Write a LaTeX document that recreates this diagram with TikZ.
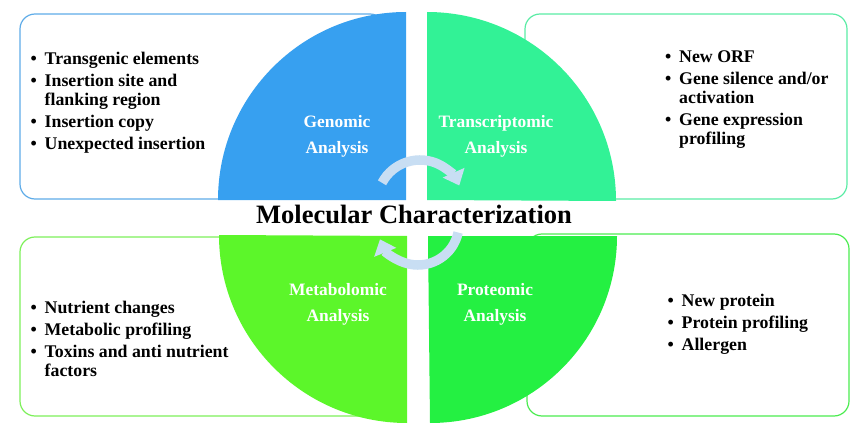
\documentclass[tikz,border=0pt]{standalone}
\usepackage{fontspec}
\setmainfont{Liberation Serif}
\usetikzlibrary{arrows.meta}
\definecolor{gblue}{RGB}{55,160,240}
\definecolor{tteal}{RGB}{50,242,150}
\definecolor{mgreen}{RGB}{92,246,42}
\definecolor{pgreen}{RGB}{36,240,66}
\definecolor{bblue}{RGB}{95,172,232}
\definecolor{bteal}{RGB}{90,236,165}
\definecolor{bmgreen}{RGB}{125,240,90}
\definecolor{bpgreen}{RGB}{75,236,80}
\definecolor{arrowc}{RGB}{200,222,243}
\newcommand{\itm}[1]{\makebox[14pt][l]{\textbullet}#1}
\newcommand{\cnt}[1]{\makebox[14pt][l]{}#1}
\tikzset{
  infobox/.style={line width=1.2pt, fill=white, rounded corners=15pt},
  listtxt/.style={anchor=north west, inner sep=0pt, align=left, font=\fontsize{17.8}{19}\selectfont\bfseries},
  quadtxt/.style={text=white, align=center, inner sep=0pt, font=\fontsize{17.4}{26}\selectfont\bfseries},
  cyclearrow/.style={line width=9.5pt, draw=arrowc, -{Triangle[width=23pt,length=14pt]}}
}
\begin{document}
\begin{tikzpicture}[x=1pt,y=1pt]
\useasboundingbox (0,0) rectangle (865,432);
% boxes
\draw[infobox, draw=bblue] (20,233) rectangle (385,418);
\draw[infobox, draw=bteal] (525,233) rectangle (847,418);
\draw[infobox, draw=bmgreen] (20,16) rectangle (385,195);
\draw[infobox, draw=bpgreen] (527,16) rectangle (849,198);
% quarters
\fill[gblue] (406,232) -- (218,232) arc[start angle=180, end angle=90, radius=188] -- cycle;
\fill[tteal] (427,232) -- (427,420) arc[start angle=90, end angle=0, radius=189] -- cycle;
\fill[mgreen] (407,196) -- (407,9) arc[start angle=270, end angle=180, radius=188] -- cycle;
\fill[pgreen] (428,196) -- (617,196) arc[start angle=0, end angle=-90, radius=187] -- cycle;
% cycle arrows
\coordinate (cu) at (420,229);
\coordinate (cl) at (418,208);
\draw[cyclearrow] ([shift={(152:43)}]cu) arc[start angle=152, end angle=24, radius=43];
\draw[cyclearrow] ([shift={(-12:41)}]cl) arc[start angle=-12, end angle=-158, radius=41];
% quadrant labels
\node[quadtxt] (gen) at (337,296) {Genomic\\Analysis};
\node[quadtxt] (tra) at (496,296) {Transcriptomic\\Analysis};
\node[quadtxt] (met) at (338,128) {Metabolomic\\Analysis};
\node[quadtxt] (pro) at (495,128) {Proteomic\\Analysis};
% title
\node[font=\fontsize{26.5}{30}\selectfont\bfseries, inner sep=0pt] (title) at (414,218) {Molecular Characterization};
% lists
\node[listtxt] (l1) at (30.5,380) {\itm{Transgenic elements}\\[3pt]\itm{Insertion site and}\\\cnt{flanking region}\\[3pt]\itm{Insertion copy}\\[3pt]\itm{Unexpected insertion}};
\node[listtxt] (l2) at (665,381) {\itm{New ORF}\\[3pt]\itm{Gene silence and/or}\\\cnt{activation}\\[3pt]\itm{Gene expression}\\\cnt{profiling}};
\node[listtxt] (l3) at (30.5,131) {\itm{Nutrient changes}\\[3pt]\itm{Metabolic profiling}\\[3pt]\itm{Toxins and anti nutrient}\\\cnt{factors}};
\node[listtxt] (l4) at (667.5,138) {\itm{New protein}\\[3pt]\itm{Protein profiling}\\[3pt]\itm{Allergen}};
\end{tikzpicture}
\end{document}
